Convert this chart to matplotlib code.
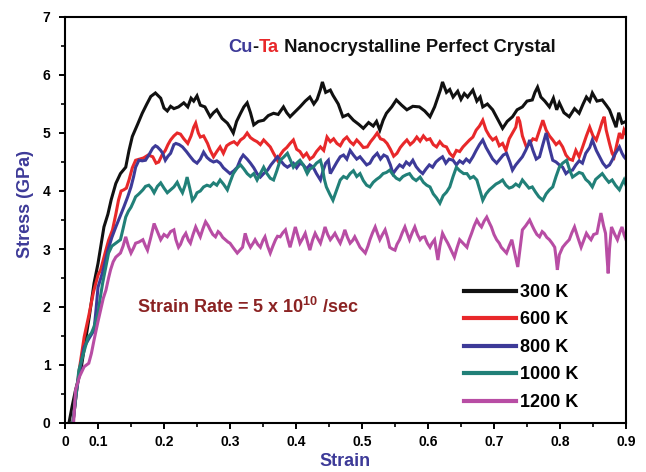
import matplotlib
matplotlib.use("Agg")
import matplotlib.pyplot as plt
import numpy as np

plt.rcParams['font.family'] = ['Liberation Sans', 'DejaVu Sans']
plt.rcParams['mathtext.fontset'] = 'custom'
plt.rcParams['mathtext.rm'] = 'Liberation Sans:bold'
plt.rcParams['mathtext.bf'] = 'Liberation Sans:bold'

labels = ["300 K", "600 K", "800 K", "1000 K", "1200 K"]
colors = ["#111111", "#e8282a", "#3d3a98", "#218078", "#b84da4"]

s300 = [(0.056,0.00),(0.061,0.30),(0.066,0.57),(0.074,0.91),(0.080,1.35),(0.087,1.85),(0.094,2.41),(0.100,2.75),(0.109,3.38),(0.115,3.60),(0.120,3.85),(0.127,4.13),(0.134,4.30),(0.142,4.41),(0.147,4.70),(0.152,4.94),(0.160,5.15),(0.167,5.34),(0.174,5.50),(0.180,5.63),(0.187,5.69),(0.195,5.60),(0.200,5.43),(0.205,5.38),(0.210,5.46),(0.215,5.42),(0.222,5.45),(0.230,5.52),(0.236,5.45),(0.241,5.60),(0.245,5.55),(0.250,5.64),(0.255,5.48),(0.262,5.45),(0.270,5.28),(0.275,5.35),(0.280,5.40),(0.288,5.25),(0.296,5.17),(0.300,5.10),(0.305,5.00),(0.310,5.20),(0.316,5.34),(0.321,5.45),(0.326,5.52),(0.331,5.35),(0.336,5.14),(0.343,5.20),(0.351,5.22),(0.358,5.30),(0.366,5.34),(0.373,5.32),(0.381,5.45),(0.386,5.35),(0.391,5.28),(0.398,5.36),(0.406,5.45),(0.414,5.55),(0.421,5.62),(0.427,5.50),(0.432,5.58),(0.437,5.75),(0.440,5.88),(0.445,5.70),(0.452,5.74),(0.456,5.65),(0.464,5.50),(0.471,5.28),(0.479,5.32),(0.487,5.22),(0.495,5.15),(0.502,5.08),(0.510,5.18),(0.517,5.12),(0.522,5.20),(0.527,5.05),(0.532,5.22),(0.537,5.34),(0.545,5.45),(0.552,5.57),(0.560,5.48),(0.568,5.40),(0.577,5.46),(0.587,5.45),(0.595,5.38),(0.603,5.28),(0.610,5.45),(0.615,5.62),(0.619,5.75),(0.622,5.88),(0.628,5.70),(0.633,5.75),(0.638,5.62),(0.645,5.72),(0.650,5.58),(0.655,5.68),(0.660,5.62),(0.668,5.74),(0.674,5.55),(0.679,5.62),(0.683,5.45),(0.690,5.50),(0.698,5.40),(0.705,5.25),(0.713,5.08),(0.720,5.20),(0.728,5.28),(0.735,5.40),(0.743,5.45),(0.750,5.55),(0.758,5.57),(0.762,5.70),(0.766,5.79),(0.771,5.62),(0.777,5.55),(0.784,5.45),(0.790,5.60),(0.795,5.40),(0.799,5.52),(0.806,5.35),(0.814,5.28),(0.822,5.42),(0.829,5.34),(0.835,5.50),(0.840,5.62),(0.845,5.55),(0.849,5.69),(0.856,5.55),(0.864,5.57),(0.870,5.48),(0.875,5.40),(0.880,5.25),(0.885,5.10),(0.889,5.35),(0.894,5.17),(0.900,5.20)]

s600 = [(0.062,0.00),(0.067,0.50),(0.072,0.95),(0.079,1.48),(0.086,1.85),(0.093,2.25),(0.100,2.55),(0.104,2.64),(0.110,2.90),(0.116,3.15),(0.122,3.33),(0.127,3.60),(0.131,3.84),(0.135,4.00),(0.139,4.02),(0.143,4.05),(0.147,4.19),(0.152,4.40),(0.157,4.53),(0.163,4.55),(0.169,4.57),(0.176,4.62),(0.183,4.59),(0.188,4.48),(0.192,4.50),(0.197,4.62),(0.202,4.70),(0.206,4.80),(0.210,4.88),(0.215,4.95),(0.220,5.00),(0.225,4.98),(0.230,4.90),(0.236,4.82),(0.241,4.95),(0.245,5.10),(0.248,5.17),(0.252,5.00),(0.255,4.93),(0.260,4.95),(0.266,4.82),(0.270,4.70),(0.275,4.59),(0.280,4.68),(0.285,4.76),(0.290,4.65),(0.295,4.78),(0.300,4.82),(0.306,4.85),(0.311,4.80),(0.316,4.88),(0.321,4.92),(0.326,5.00),(0.331,4.92),(0.336,4.88),(0.341,4.85),(0.346,4.80),(0.351,4.88),(0.356,4.82),(0.361,4.76),(0.366,4.65),(0.372,4.53),(0.376,4.62),(0.381,4.70),(0.386,4.75),(0.391,4.82),(0.396,4.88),(0.401,4.72),(0.406,4.68),(0.411,4.59),(0.416,4.65),(0.421,4.55),(0.426,4.59),(0.431,4.68),(0.437,4.76),(0.442,4.70),(0.447,4.93),(0.452,4.85),(0.457,4.90),(0.462,4.82),(0.467,4.78),(0.472,4.88),(0.477,4.93),(0.482,4.85),(0.487,4.80),(0.492,4.88),(0.497,4.82),(0.502,4.75),(0.508,4.76),(0.513,4.85),(0.518,4.92),(0.523,5.00),(0.528,4.90),(0.533,4.88),(0.538,4.82),(0.543,4.72),(0.548,4.60),(0.553,4.65),(0.558,4.75),(0.563,4.82),(0.568,4.88),(0.573,4.80),(0.578,4.85),(0.583,4.93),(0.588,4.86),(0.593,4.95),(0.598,4.88),(0.603,4.90),(0.608,4.80),(0.613,4.76),(0.618,4.85),(0.623,4.78),(0.628,4.76),(0.633,4.65),(0.638,4.59),(0.643,4.70),(0.648,4.68),(0.653,4.76),(0.658,4.82),(0.663,4.88),(0.668,4.93),(0.673,5.05),(0.678,5.12),(0.683,5.22),(0.688,5.05),(0.693,4.95),(0.698,4.88),(0.703,4.92),(0.708,4.78),(0.713,4.82),(0.718,4.70),(0.723,4.90),(0.728,5.00),(0.733,5.10),(0.736,5.28),(0.739,5.20),(0.743,4.95),(0.749,4.76),(0.754,4.82),(0.759,4.90),(0.764,4.88),(0.769,5.05),(0.774,5.22),(0.779,5.05),(0.784,4.95),(0.789,4.88),(0.794,4.80),(0.799,4.85),(0.804,4.76),(0.809,4.62),(0.814,4.55),(0.819,4.53),(0.824,4.70),(0.829,4.59),(0.834,4.75),(0.840,4.95),(0.845,5.10),(0.850,4.95),(0.855,4.88),(0.860,5.05),(0.864,5.20),(0.867,5.28),(0.870,5.05),(0.875,4.82),(0.879,4.65),(0.882,4.59),(0.886,4.80),(0.890,5.00),(0.894,4.90),(0.897,5.05),(0.900,4.98)]

s800 = [(0.062,0.00),(0.067,0.50),(0.072,0.90),(0.079,1.31),(0.086,1.45),(0.094,1.60),(0.097,1.95),(0.100,2.34),(0.107,2.60),(0.115,2.98),(0.121,3.20),(0.127,3.38),(0.133,3.55),(0.139,3.72),(0.145,3.90),(0.150,4.07),(0.154,4.25),(0.157,4.41),(0.162,4.53),(0.167,4.52),(0.172,4.53),(0.177,4.62),(0.183,4.74),(0.187,4.78),(0.190,4.76),(0.195,4.70),(0.198,4.65),(0.202,4.53),(0.206,4.60),(0.210,4.65),(0.215,4.80),(0.218,4.82),(0.223,4.80),(0.228,4.76),(0.234,4.68),(0.240,4.59),(0.245,4.52),(0.250,4.48),(0.255,4.55),(0.260,4.67),(0.265,4.58),(0.270,4.53),(0.275,4.50),(0.280,4.52),(0.285,4.48),(0.290,4.40),(0.295,4.35),(0.300,4.30),(0.306,4.35),(0.311,4.41),(0.316,4.55),(0.320,4.62),(0.326,4.55),(0.331,4.48),(0.336,4.40),(0.341,4.30),(0.346,4.24),(0.351,4.30),(0.357,4.36),(0.362,4.45),(0.367,4.52),(0.372,4.59),(0.377,4.52),(0.382,4.45),(0.387,4.41),(0.392,4.45),(0.396,4.48),(0.401,4.40),(0.406,4.48),(0.411,4.45),(0.416,4.38),(0.421,4.45),(0.426,4.41),(0.431,4.30),(0.437,4.19),(0.441,4.35),(0.445,4.48),(0.449,4.53),(0.452,4.30),(0.457,4.40),(0.462,4.50),(0.467,4.59),(0.472,4.62),(0.477,4.55),(0.482,4.70),(0.487,4.62),(0.492,4.55),(0.497,4.59),(0.502,4.52),(0.507,4.45),(0.512,4.48),(0.517,4.58),(0.523,4.65),(0.528,4.55),(0.533,4.62),(0.538,4.59),(0.543,4.45),(0.547,4.30),(0.552,4.38),(0.557,4.45),(0.562,4.41),(0.567,4.50),(0.572,4.45),(0.577,4.53),(0.582,4.42),(0.587,4.35),(0.592,4.30),(0.597,4.38),(0.602,4.45),(0.607,4.41),(0.612,4.50),(0.617,4.55),(0.622,4.59),(0.627,4.48),(0.632,4.55),(0.638,4.53),(0.643,4.45),(0.648,4.52),(0.653,4.48),(0.658,4.55),(0.663,4.50),(0.668,4.59),(0.673,4.70),(0.678,4.80),(0.683,4.88),(0.688,4.75),(0.693,4.65),(0.698,4.55),(0.704,4.48),(0.709,4.55),(0.714,4.62),(0.719,4.65),(0.724,4.50),(0.728,4.36),(0.733,4.45),(0.738,4.52),(0.743,4.59),(0.748,4.70),(0.752,4.80),(0.754,4.88),(0.759,4.70),(0.764,4.55),(0.769,4.59),(0.774,4.80),(0.779,5.00),(0.784,4.75),(0.789,4.53),(0.794,4.50),(0.799,4.45),(0.804,4.41),(0.809,4.30),(0.814,4.35),(0.819,4.36),(0.824,4.45),(0.829,4.52),(0.834,4.48),(0.839,4.65),(0.845,4.75),(0.849,4.88),(0.855,4.70),(0.860,4.59),(0.865,4.48),(0.870,4.41),(0.875,4.45),(0.879,4.53),(0.884,4.65),(0.890,4.76),(0.894,4.65),(0.897,4.59),(0.900,4.55)]

s1000 = [(0.062,0.00),(0.066,0.40),(0.071,0.91),(0.078,1.20),(0.085,1.48),(0.090,1.55),(0.094,1.66),(0.100,1.90),(0.104,2.20),(0.107,2.41),(0.112,2.70),(0.116,2.93),(0.121,3.05),(0.127,3.10),(0.134,3.16),(0.138,3.35),(0.142,3.55),(0.146,3.65),(0.150,3.72),(0.154,3.82),(0.157,3.90),(0.162,3.95),(0.168,4.02),(0.172,4.08),(0.177,4.10),(0.181,4.05),(0.185,3.97),(0.190,4.08),(0.195,4.14),(0.200,4.05),(0.205,3.97),(0.210,4.02),(0.215,4.07),(0.220,4.15),(0.224,4.05),(0.228,3.97),(0.232,4.10),(0.235,4.24),(0.239,4.05),(0.243,3.84),(0.247,3.90),(0.250,3.97),(0.255,4.00),(0.260,4.07),(0.265,4.10),(0.270,4.08),(0.275,4.14),(0.280,4.10),(0.285,4.19),(0.290,4.12),(0.296,4.02),(0.300,4.15),(0.305,4.30),(0.311,4.40),(0.316,4.45),(0.321,4.38),(0.326,4.30),(0.331,4.25),(0.336,4.30),(0.341,4.19),(0.346,4.30),(0.351,4.41),(0.356,4.30),(0.361,4.22),(0.366,4.19),(0.371,4.35),(0.376,4.53),(0.381,4.58),(0.387,4.65),(0.392,4.52),(0.396,4.41),(0.401,4.48),(0.406,4.53),(0.411,4.45),(0.417,4.30),(0.421,4.38),(0.426,4.41),(0.431,4.48),(0.437,4.53),(0.440,4.40),(0.443,4.20),(0.446,4.07),(0.451,3.95),(0.456,3.84),(0.461,4.00),(0.467,4.19),(0.472,4.25),(0.477,4.22),(0.482,4.30),(0.487,4.35),(0.492,4.25),(0.497,4.30),(0.502,4.18),(0.507,4.10),(0.512,4.07),(0.517,4.15),(0.522,4.20),(0.527,4.24),(0.532,4.30),(0.537,4.32),(0.542,4.36),(0.547,4.28),(0.552,4.22),(0.557,4.19),(0.562,4.25),(0.567,4.28),(0.572,4.30),(0.577,4.22),(0.582,4.18),(0.588,4.24),(0.593,4.15),(0.598,4.10),(0.603,4.07),(0.608,3.95),(0.613,3.88),(0.618,3.79),(0.623,3.92),(0.628,3.98),(0.633,4.07),(0.638,4.25),(0.643,4.41),(0.648,4.35),(0.654,4.30),(0.659,4.30),(0.664,4.22),(0.669,4.25),(0.674,4.19),(0.679,4.00),(0.683,3.84),(0.688,3.95),(0.693,4.02),(0.698,4.07),(0.703,4.12),(0.708,4.15),(0.713,4.19),(0.718,4.10),(0.723,4.05),(0.728,4.07),(0.733,4.12),(0.738,4.08),(0.743,4.19),(0.748,4.12),(0.753,4.05),(0.758,4.07),(0.763,3.98),(0.768,3.90),(0.774,3.84),(0.779,3.95),(0.784,4.02),(0.789,4.07),(0.794,4.25),(0.799,4.41),(0.804,4.48),(0.810,4.53),(0.815,4.35),(0.819,4.24),(0.824,4.28),(0.829,4.32),(0.834,4.30),(0.839,4.20),(0.844,4.15),(0.849,4.07),(0.854,4.20),(0.859,4.25),(0.864,4.30),(0.869,4.22),(0.874,4.15),(0.879,4.19),(0.884,4.10),(0.890,4.02),(0.894,4.12),(0.897,4.19),(0.900,4.10)]

s1200 = [(0.063,0.00),(0.066,0.57),(0.072,0.80),(0.079,0.97),(0.086,1.03),(0.090,1.20),(0.094,1.43),(0.100,1.75),(0.104,1.95),(0.108,2.15),(0.112,2.29),(0.116,2.50),(0.119,2.64),(0.123,2.78),(0.127,2.86),(0.134,2.93),(0.138,3.05),(0.142,3.21),(0.146,3.05),(0.150,2.93),(0.154,3.02),(0.157,3.10),(0.162,3.12),(0.168,3.16),(0.172,3.05),(0.175,2.98),(0.180,3.20),(0.185,3.44),(0.190,3.30),(0.195,3.16),(0.200,3.25),(0.205,3.21),(0.210,3.30),(0.215,3.33),(0.218,3.16),(0.222,3.03),(0.225,3.08),(0.229,3.20),(0.233,3.27),(0.237,3.15),(0.240,3.10),(0.244,3.25),(0.248,3.38),(0.252,3.28),(0.255,3.21),(0.259,3.35),(0.263,3.47),(0.267,3.40),(0.270,3.33),(0.274,3.25),(0.278,3.21),(0.282,3.30),(0.285,3.27),(0.289,3.20),(0.293,3.16),(0.297,3.12),(0.300,3.10),(0.305,3.02),(0.311,2.93),(0.315,2.98),(0.319,3.03),(0.323,3.27),(0.327,3.12),(0.331,3.03),(0.335,3.10),(0.338,3.16),(0.342,3.08),(0.346,3.03),(0.350,3.15),(0.353,3.21),(0.357,3.05),(0.361,2.93),(0.365,3.05),(0.369,3.16),(0.372,3.22),(0.376,3.21),(0.380,3.28),(0.384,3.33),(0.388,3.15),(0.391,3.03),(0.395,3.20),(0.399,3.38),(0.403,3.22),(0.406,3.10),(0.410,3.18),(0.414,3.27),(0.418,3.10),(0.421,2.98),(0.425,3.15),(0.429,3.27),(0.433,3.18),(0.437,3.10),(0.441,3.25),(0.444,3.38),(0.448,3.25),(0.452,3.16),(0.456,3.22),(0.459,3.27),(0.463,3.18),(0.467,3.10),(0.471,3.22),(0.474,3.33),(0.478,3.20),(0.482,3.10),(0.486,3.15),(0.489,3.21),(0.493,3.12),(0.497,3.03),(0.501,2.98),(0.505,2.93),(0.509,3.05),(0.512,3.16),(0.516,3.28),(0.520,3.38),(0.524,3.25),(0.527,3.16),(0.531,3.25),(0.535,3.33),(0.539,3.18),(0.542,3.03),(0.546,3.00),(0.550,2.98),(0.553,3.08),(0.557,3.16),(0.561,3.28),(0.565,3.38),(0.569,3.25),(0.572,3.16),(0.576,3.28),(0.580,3.38),(0.584,3.25),(0.588,3.16),(0.591,3.20),(0.595,3.21),(0.599,3.10),(0.603,3.03),(0.606,3.10),(0.610,3.16),(0.613,2.95),(0.615,2.81),(0.618,3.05),(0.622,3.27),(0.626,3.18),(0.630,3.10),(0.635,2.98),(0.640,2.86),(0.644,3.02),(0.648,3.16),(0.653,3.10),(0.659,3.03),(0.662,3.15),(0.666,3.27),(0.670,3.40),(0.674,3.50),(0.678,3.42),(0.681,3.38),(0.685,3.48),(0.689,3.55),(0.693,3.45),(0.696,3.38),(0.700,3.25),(0.704,3.16),(0.708,3.10),(0.711,3.03),(0.715,2.98),(0.719,2.93),(0.723,3.05),(0.727,3.16),(0.731,2.95),(0.736,2.69),(0.740,3.05),(0.743,3.33),(0.748,3.40),(0.754,3.50),(0.758,3.40),(0.761,3.33),(0.765,3.25),(0.769,3.21),(0.773,3.30),(0.776,3.27),(0.780,3.20),(0.784,3.16),(0.788,3.10),(0.792,3.03),(0.794,2.85),(0.796,2.64),(0.799,2.90),(0.804,3.03),(0.809,3.10),(0.814,3.16),(0.818,3.28),(0.822,3.38),(0.827,3.20),(0.832,3.03),(0.836,3.15),(0.840,3.27),(0.844,3.20),(0.847,3.16),(0.851,3.25),(0.856,3.27),(0.859,3.45),(0.862,3.62),(0.866,3.40),(0.869,3.27),(0.871,2.90),(0.873,2.58),(0.875,3.00),(0.878,3.38),(0.883,3.25),(0.887,3.16),(0.891,3.30),(0.894,3.38),(0.897,3.25),(0.900,3.16)]

series = [s300, s600, s800, s1000, s1200]

x_ticks = [0.05, 0.1, 0.2, 0.3, 0.4, 0.5, 0.6, 0.7, 0.8, 0.9]
x_ticklabels = ["0", "0.1", "0.2", "0.3", "0.4", "0.5", "0.6", "0.7", "0.8", "0.9"]
y_ticks = [0, 1, 2, 3, 4, 5, 6, 7]

W, H = 646, 472
fig = plt.figure(figsize=(W / 100, H / 100), dpi=100)
ax = fig.add_axes([65 / W, 1 - 423 / H, (626 - 65) / W, (423 - 17) / H])

for data, c, lab in zip(series, colors, labels):
    arr = np.array(data)
    ax.plot(arr[:, 0], arr[:, 1], color=c, lw=2.2, label=lab, solid_joinstyle='miter')

ax.set_xlim(0.05, 0.9)
ax.set_ylim(0, 7)
ax.set_xticks(x_ticks)
ax.set_xticklabels(x_ticklabels)
ax.set_xticks(np.arange(0.15, 0.9, 0.1), minor=True)
ax.set_yticks(y_ticks)
ax.set_yticks(np.arange(0.5, 7, 1.0), minor=True)
for sp in ax.spines.values():
    sp.set_linewidth(1.5)
ax.tick_params(which='major', direction='out', length=4.5, width=1.4, labelsize=10, pad=4)
ax.tick_params(which='minor', direction='out', length=3, width=1.2)
ax.tick_params(axis='y', pad=6)
for t in ax.get_xticklabels() + ax.get_yticklabels():
    t.set_fontweight('bold')

lab_color = "#3d3a98"
ax.set_xlabel("Strain", fontsize=13, fontweight='bold', color=lab_color, labelpad=3)
ax.set_ylabel("Stress (GPa)", fontsize=13, fontweight='bold', color=lab_color)
ax.yaxis.set_label_coords((34 - 65) / 561, (423 - 204) / 406)

# Title made of coloured pieces
t1 = ax.text(228 / W, 1 - 52 / H, "Cu", transform=fig.transFigure, fontsize=13.2,
             fontweight='bold', color="#3d3a98", va='baseline', ha='left')
t2 = ax.annotate("-", xy=(1, 0), xycoords=t1, va='bottom', ha='left', fontsize=13.2,
                 fontweight='bold', color="#111111")
t3 = ax.annotate("Ta", xy=(1, 0), xycoords=t2, va='bottom', ha='left', fontsize=13.2,
                 fontweight='bold', color="#e8282a")
ax.annotate(" Nanocrystalline Perfect Crystal", xy=(1, 0), xycoords=t3, va='bottom',
            ha='left', fontsize=13.2, fontweight='bold', color="#111111")

ax.text(137 / W, 1 - 313 / H, r"Strain Rate = 5 x 10$^{\mathbf{10}}$ /sec",
        transform=fig.transFigure, fontsize=13, fontweight='bold', color="#8b2323",
        va='baseline', ha='left')

leg = ax.legend(loc='upper left', bbox_to_anchor=(464 / W, 1 - 284 / H),
                bbox_transform=fig.transFigure, frameon=False,
                prop={'size': 13, 'weight': 'bold'},
                handlelength=2.9, handletextpad=0.2, labelspacing=0.58,
                borderpad=0, borderaxespad=0)
for lh in leg.get_lines():
    lh.set_linewidth(3)

fig.savefig("out.png", dpi=100)
